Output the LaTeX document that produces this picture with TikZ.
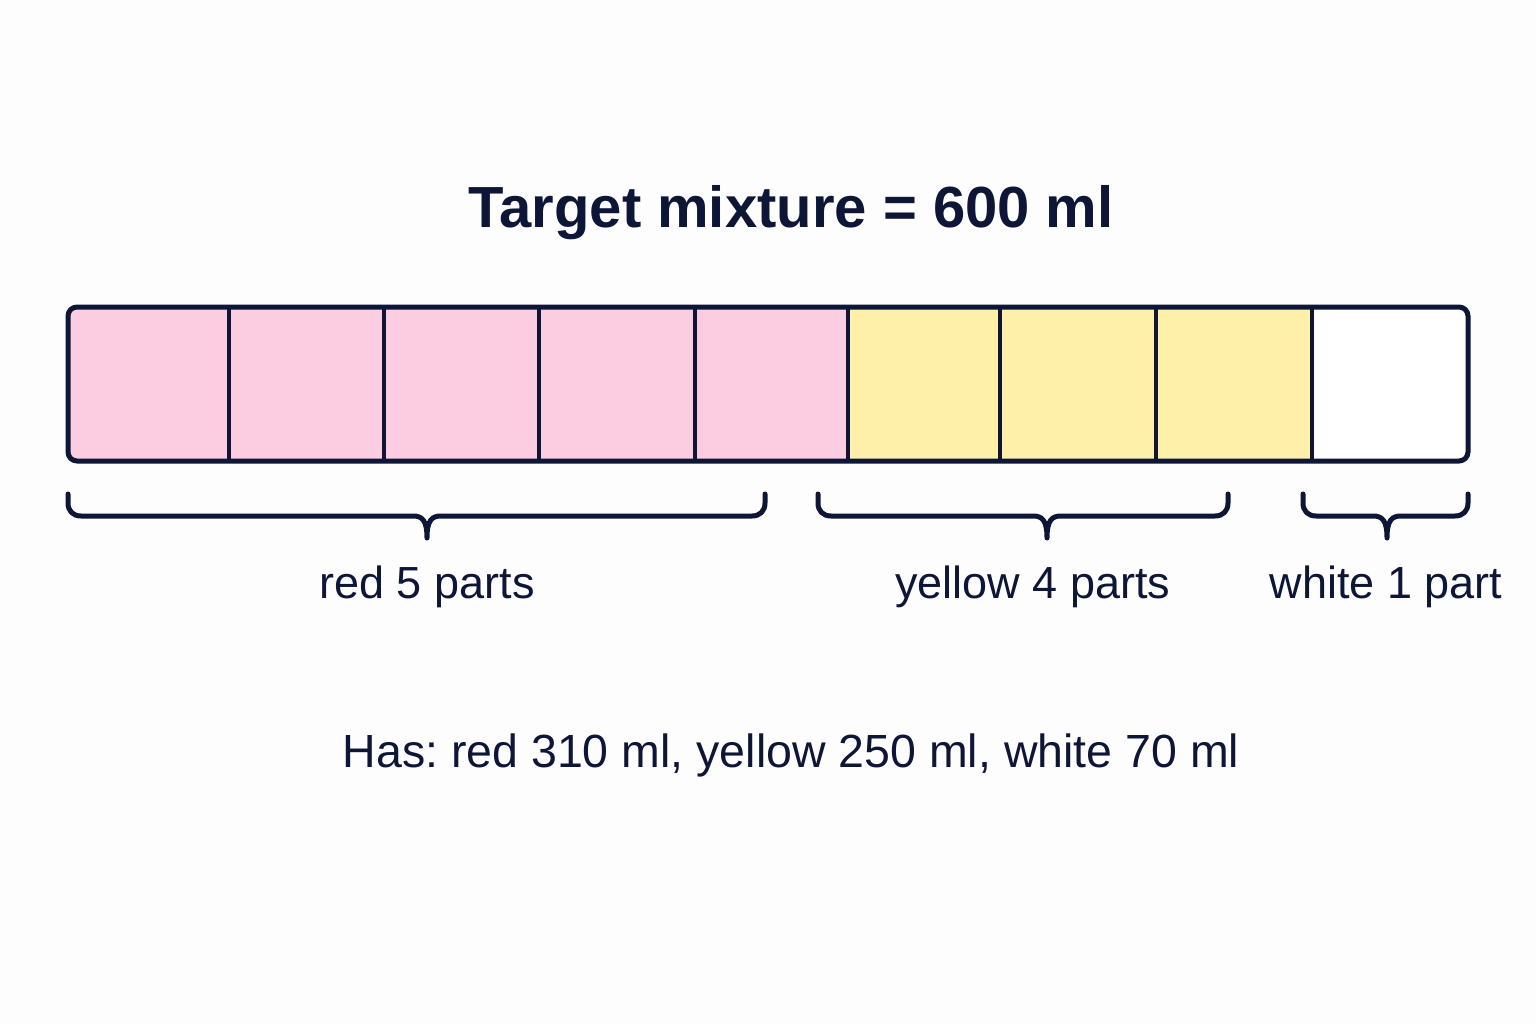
\documentclass[tikz,border=0pt]{standalone}
\usepackage{fontspec}
\setmainfont{Liberation Sans}
\usepackage{tikz}
\frenchspacing

\definecolor{ink}{RGB}{14,22,56}
\definecolor{redpart}{RGB}{252,204,225}
\definecolor{yellowpart}{RGB}{254,240,168}
\definecolor{whitepart}{RGB}{255,255,255}
\definecolor{paper}{RGB}{253,253,253}

\begin{document}
\begin{tikzpicture}[x=1pt, y=-1pt,
    titletext/.style={font=\fontsize{58}{70}\selectfont\bfseries, text=ink, inner sep=0pt, anchor=base},
    parttext/.style={font=\fontsize{45}{54}\selectfont, text=ink, inner sep=0pt, anchor=base},
    bracepath/.style={draw=ink, line width=5pt, line cap=round, line join=round}]

      % Background
      \fill[paper] (0,0) rectangle (1536,1024);
      \useasboundingbox (0,0) rectangle (1536,1024);

      % Title
      \node[titletext] (title) at (791,228) {Target mixture = 600 ml};

      % Fill the parts
      \begin{scope}
        \clip[rounded corners=9] (68,307) rectangle (1468,461);
        \foreach \a/\b/\c in {68/229/redpart, 229/384/redpart, 384/539/redpart,
                              539/695/redpart, 695/848/redpart, 848/1000/yellowpart,
                              1000/1156/yellowpart, 1156/1312/yellowpart, 1312/1468/whitepart}
          \fill[\c] (\a,307) rectangle (\b,461);
      \end{scope}

      % Dividers and frame
      \foreach \x in {229,384,539,695,848,1000,1156,1312}
        \draw[ink, line width=4.5pt] (\x,307) -- (\x,461);
      \draw[ink, line width=5pt, rounded corners=9] (68,307) rectangle (1468,461);

      % Braces under the bar
      \foreach \a/\m/\b in {68/427/765, 818/1047/1228, 1303/1387/1468}
        \draw[bracepath] (\a,494) -- (\a,503)
          .. controls (\a,511) and (\a+5,516) .. (\a+13,516) -- (\m-14,516)
          .. controls (\m-5,516) and (\m,520) .. (\m,538)
          .. controls (\m,520) and (\m+5,516) .. (\m+14,516) -- (\b-13,516)
          .. controls (\b-5,516) and (\b,511) .. (\b,503) -- (\b,494);

      % Part labels
      \foreach \n/\x/\t in {redlbl/427/red 5 parts, yellowlbl/1033/yellow 4 parts, whitelbl/1386/white 1 part}
        \node[parttext] (\n) at (\x,598) {\t};

      % What is on hand
      \node[parttext, font=\fontsize{46.5}{56}\selectfont] (has) at (791,767) {Has: red 310 ml, yellow 250 ml, white 70 ml};
    \end{tikzpicture}
\end{document}
